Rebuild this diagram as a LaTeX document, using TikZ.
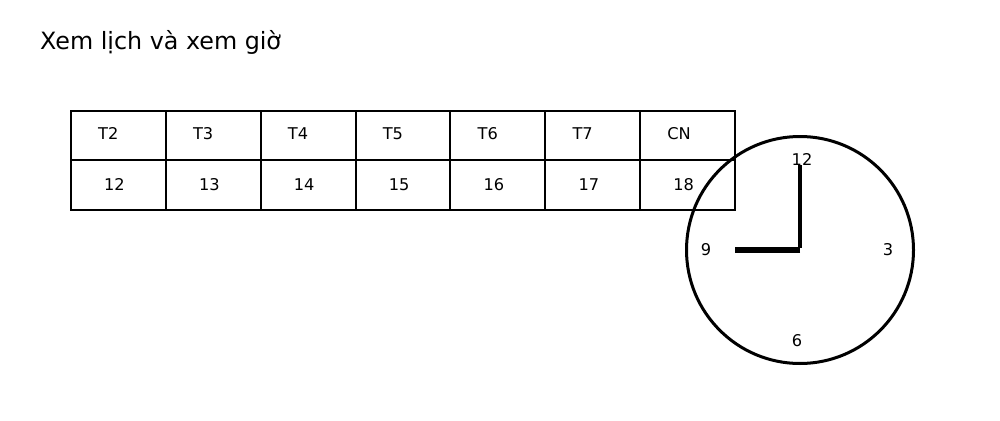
\documentclass[tikz,border=0pt]{standalone}
\usepackage{fontspec}
\setmainfont{DejaVu Sans}
\begin{document}
\begin{tikzpicture}[x=1pt,y=-1pt,
  cellbox/.style={draw, line width=2pt, minimum width=94.86pt, minimum height=49.5pt, inner sep=0pt, outer sep=0pt},
  daylbl/.style={anchor=base west, inner sep=0pt, font=\fontsize{16.2}{18}\selectfont},
  numlbl/.style={anchor=base, inner sep=0pt, font=\fontsize{16.2}{18}\selectfont},
  clocklbl/.style={anchor=center, inner sep=0pt, font=\fontsize{16.2}{18}\selectfont},
  titlelbl/.style={anchor=base west, inner sep=0pt, font=\fontsize{23.8}{26}\selectfont}]
\useasboundingbox (0,0) rectangle (1000,420);
\fill[white] (0,0) rectangle (1000,420);
\node[titlelbl] (title) at (40,49) {Xem lịch và xem giờ};
\foreach \d/\n [count=\i from 0] in {T2/12,T3/13,T4/14,T5/15,T6/16,T7/17,CN/18}{
  \pgfmathsetmacro{\xl}{71+94.86*\i}
  \node[cellbox] (top\i) at (\xl+47.43,135.5) {};
  \node[cellbox] (bot\i) at (\xl+47.43,185) {};
  \node[daylbl] (day\i) at (\xl+27,139) {\d};
  \node[numlbl] (num\i) at (\xl+43.5,190) {\n};
}
\node[circle, draw, line width=3pt, minimum size=227pt, inner sep=0pt] (clock) at (800,250) {};
\coordinate (hourtip) at (735,250);
\coordinate (mintip) at (800,165);
\draw[line width=6pt] (clock.center) -- (hourtip);
\draw[line width=4pt] ([yshift=2pt]clock.center) -- (mintip);
\node[clocklbl] (h12) at (802,159) {12};
\node[clocklbl] (h3) at (888,250) {3};
\node[clocklbl] (h6) at (797,341) {6};
\node[clocklbl] (h9) at (706,250) {9};
\end{tikzpicture}
\end{document}
